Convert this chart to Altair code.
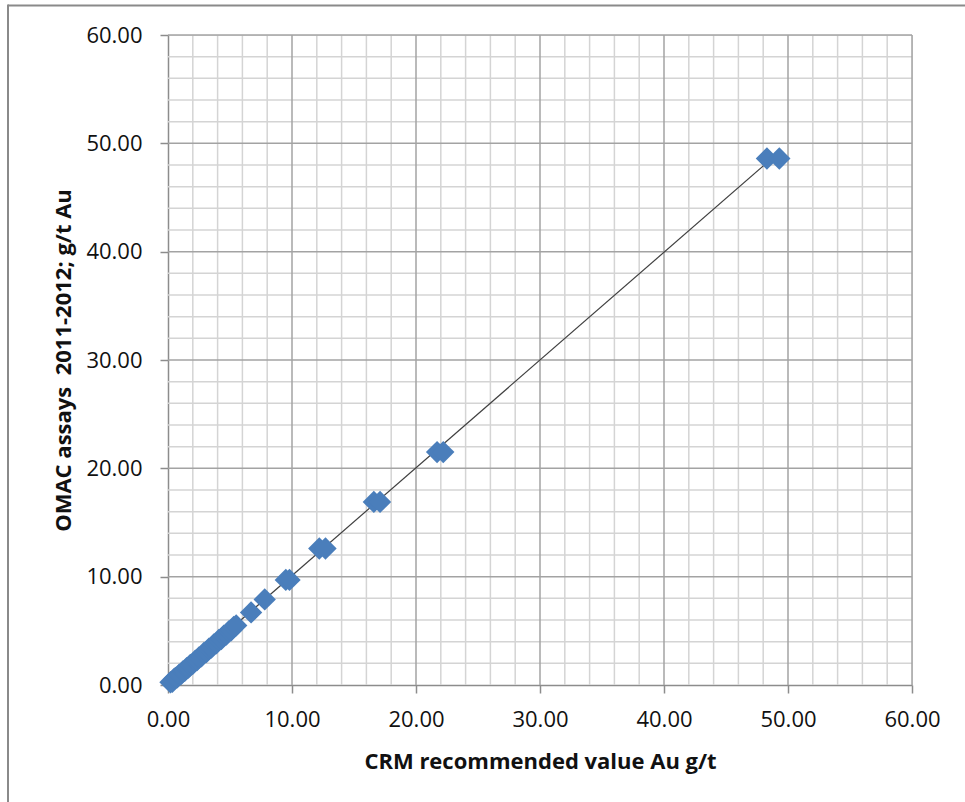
import altair as alt
import pandas as pd

# CRM recommended values (x) against OMAC assay results (y), g/t Au
crm_value = [0.2, 0.35, 0.5, 0.6, 0.75, 0.9, 1.05, 1.2, 1.35, 1.5, 1.65, 1.8,
             2.0, 2.2, 2.35, 2.5, 2.7, 2.9, 3.1, 3.3, 3.5, 3.7, 3.9, 4.1, 4.3,
             4.5, 4.7, 4.9, 5.1, 5.3, 5.5, 6.7, 7.8, 9.5, 9.8, 12.2, 12.7,
             16.6, 17.1, 21.7, 22.2, 48.3, 49.3]
omac_assay = [0.25, 0.3, 0.55, 0.65, 0.7, 0.95, 1.0, 1.25, 1.3, 1.55, 1.6, 1.85,
              1.95, 2.25, 2.3, 2.55, 2.65, 2.95, 3.05, 3.35, 3.45, 3.75, 3.85,
              4.15, 4.25, 4.55, 4.65, 4.95, 5.05, 5.35, 5.5, 6.7, 7.9, 9.7, 9.7,
              12.6, 12.6, 16.9, 16.9, 21.5, 21.5, 48.6, 48.6]

# trend line end points
trend_x = [0.35, 49.3]
trend_y = [0.5, 49.2]

major_ticks = [0, 10, 20, 30, 40, 50, 60]
major_grid = [10, 20, 30, 40, 50, 60]
minor_grid = [v for v in range(2, 60, 2) if v % 10 != 0]

FONT = "Open Sans"
AXIS_GREY = "#8c8c8c"

points = pd.DataFrame({"crm": crm_value, "omac": omac_assay})
trend = pd.DataFrame({"crm": trend_x, "omac": trend_y})
minor = pd.DataFrame({"v": minor_grid})
major = pd.DataFrame({"v": major_grid})

xscale = alt.Scale(domain=[0, 60], nice=False, zero=False)
yscale = alt.Scale(domain=[0, 60], nice=False, zero=False)

x_axis = alt.Axis(
    values=major_ticks, format=".2f", grid=False, labelFlush=False,
    domainColor=AXIS_GREY, domainWidth=1.5, tickColor=AXIS_GREY, tickWidth=1.5,
    tickSize=8, labelFont=FONT, labelFontSize=22, labelColor="#111111",
    labelPadding=26, labelBaseline="middle",
    title="CRM recommended value Au g/t", titleFont=FONT, titleFontSize=22,
    titleFontWeight="bold", titleColor="#111111",
    titleBaseline="alphabetic", titleY=83,
)
y_axis = alt.Axis(
    values=major_ticks, format=".2f", grid=False, labelFlush=False,
    domainColor=AXIS_GREY, domainWidth=1.5, tickColor=AXIS_GREY, tickWidth=1.5,
    tickSize=8, labelFont=FONT, labelFontSize=22, labelColor="#111111",
    labelPadding=18,
    title="OMAC assays\u00a0 2011-2012; g/t Au", titleFont=FONT, titleFontSize=22,
    titleFontWeight="bold", titleColor="#111111",
    titleBaseline="alphabetic", titleAngle=-90, titleX=-98, titleY=325,
    titleAlign="center",
)

X_grid = alt.X("v:Q", scale=xscale, axis=x_axis)
Y_grid = alt.Y("v:Q", scale=yscale, axis=y_axis)

minor_v = alt.Chart(minor).mark_rule(color="#d4d4d4", strokeWidth=1.5).encode(x=X_grid)
minor_h = alt.Chart(minor).mark_rule(color="#d4d4d4", strokeWidth=1.5).encode(y=Y_grid)
major_v = alt.Chart(major).mark_rule(color="#a3a3a3", strokeWidth=1.5).encode(x=X_grid)
major_h = alt.Chart(major).mark_rule(color="#a3a3a3", strokeWidth=1.5).encode(y=Y_grid)

trend_line = alt.Chart(trend).mark_line(color="#404040", strokeWidth=1.2).encode(
    x=alt.X("crm:Q", scale=xscale, axis=x_axis),
    y=alt.Y("omac:Q", scale=yscale, axis=y_axis),
)

markers = alt.Chart(points).mark_point(
    shape="diamond", filled=True, size=500, color="#4a7ebb", opacity=1
).encode(
    x=alt.X("crm:Q", scale=xscale, axis=x_axis),
    y=alt.Y("omac:Q", scale=yscale, axis=y_axis),
)

# outer chart frame (left and top edges)
frame_top = alt.Chart(pd.DataFrame({"k": [0]})).mark_rule(
    color="#8a8a8a", strokeWidth=2).encode(
    x=alt.value(-160), x2=alt.value(820), y=alt.value(-29.5))
frame_left = alt.Chart(pd.DataFrame({"k": [0]})).mark_rule(
    color="#8a8a8a", strokeWidth=2).encode(
    x=alt.value(-160), y=alt.value(-30.5), y2=alt.value(790))

chart = alt.layer(
    minor_v, minor_h, major_v, major_h, trend_line, markers, frame_top, frame_left
).properties(
    width=744, height=650,
    autosize=alt.AutoSizeParams(type="none"),
    padding={"left": 168, "top": 35, "right": 53, "bottom": 117},
).configure_view(stroke=None).configure(background="white")

chart.save("out.html", embed_options={"renderer": "svg", "actions": False})
